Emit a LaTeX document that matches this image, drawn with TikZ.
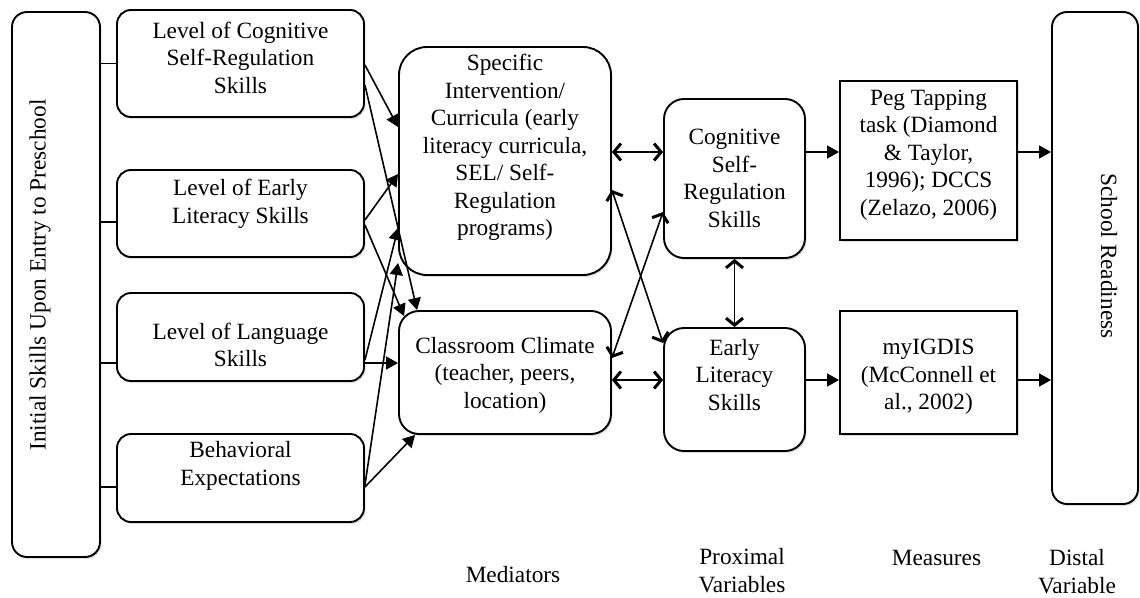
\documentclass[tikz,border=0pt]{standalone}
\usepackage{fontspec}
\setmainfont{Liberation Serif}
\usetikzlibrary{arrows.meta,calc,shadows}
\begin{document}
\begin{tikzpicture}[x=1pt,y=-1pt,
  box/.style={draw, line width=1.9pt, rounded corners=14pt, fill=white, inner sep=0pt,
    drop shadow={shadow xshift=1.5pt, shadow yshift=-2pt, opacity=0.22, fill=black!60}},
  sqbox/.style={box, sharp corners},
  txt/.style={align=center, inner sep=0pt, font=\fontsize{23.3}{27.5}\selectfont},
  conn/.style={line width=1.6pt},
  tri/.style={conn, -{Triangle[length=12pt,width=13pt]}},
  barb/.style={conn, {Straight Barb[length=7pt,width=17pt,line width=3pt]}-{Straight Barb[length=7pt,width=17pt,line width=3pt]}}
]
\useasboundingbox (0,0) rectangle (1140,597);

% boxes
\node[box, minimum width=88pt, minimum height=545pt, rounded corners=15pt] (L) at (56,284.5) {};
\node[box, minimum width=247pt, minimum height=107pt] (c1) at (240.5,63.5) {};
\node[box, minimum width=247pt, minimum height=87pt] (c2) at (240.5,213.5) {};
\node[box, minimum width=247pt, minimum height=88pt] (c3) at (240.5,337) {};
\node[box, minimum width=247pt, minimum height=88pt] (c4) at (240.5,478) {};
\node[box, minimum width=212pt, minimum height=228pt, rounded corners=28pt] (m1) at (505,161) {};
\node[box, minimum width=212pt, minimum height=123pt, rounded corners=20pt] (m2) at (505,372.5) {};
\node[box, minimum width=141pt, minimum height=159pt, rounded corners=20pt] (p1) at (734.5,178.5) {};
\node[box, minimum width=141pt, minimum height=123pt, rounded corners=20pt] (p2) at (734.5,389.5) {};
\node[sqbox, minimum width=177pt, minimum height=159pt] (r1) at (928.5,160.5) {};
\node[sqbox, minimum width=177pt, minimum height=123pt] (r2) at (928.5,372.5) {};
\node[box, minimum width=86pt, minimum height=492pt, rounded corners=15pt] (sr) at (1095,258) {};

% texts
\node[txt, rotate=90] (Lt) at (40,275) {Initial Skills Upon Entry to Preschool};
\node[txt] (c1t) at (240.5,57.5) {Level of Cognitive\\Self-Regulation\\Skills};
\node[txt] (c2t) at (240.5,204) {Level of Early\\Literacy Skills};
\node[txt] (c3t) at (240.5,345) {Level of Language\\Skills};
\node[txt] (c4t) at (240.5,466) {Behavioral\\Expectations};
\node[txt] (m1t) at (505,147.5) {Specific\\Intervention/\\Curricula (early\\literacy curricula,\\SEL/ Self-\\Regulation\\programs)};
\node[txt] (m2t) at (505,375) {Classroom Climate\\(teacher, peers,\\location)};
\node[txt] (p1t) at (734.5,178.5) {Cognitive\\Self-\\Regulation\\Skills};
\node[txt] (p2t) at (734.5,375) {Early\\Literacy\\Skills};
\node[txt] (r1t) at (928.5,155) {Peg Tapping\\task (Diamond\\\& Taylor,\\1996); DCCS\\(Zelazo, 2006)};
\node[txt] (r2t) at (928.5,377) {myIGDIS\\(McConnell et\\al., 2002)};
\node[txt, rotate=-90] (srt) at (1109,256) {School Readiness};

% column labels
\node[txt] (lab1) at (513,575) {Mediators};
\node[txt] (lab2) at (742,570.5) {Proximal\\Variables};
\node[txt] (lab3) at (936.5,558) {Measures};
\node[txt] (lab4) at (1077,571.5) {Distal\\Variable};

% coordinates on node edges
\coordinate (c1a) at ($(c1.east)+(0,1.5)$);
\coordinate (c1b) at ($(c1.east)+(0,21.5)$);
\coordinate (c2a) at ($(c2.east)+(0,6.5)$);
\coordinate (c2b) at ($(c2.east)+(0,11.5)$);
\coordinate (c3a) at ($(c3.east)+(0,23)$);
\coordinate (c3b) at ($(c3.east)+(0,26)$);
\coordinate (c4a) at ($(c4.east)+(0,7)$);
\coordinate (c4b) at ($(c4.east)+(0,9)$);

\coordinate (c1w) at (c1.west);
\coordinate (c2w) at ($(c2.west)+(0,8.5)$);
\coordinate (c3w) at ($(c3.west)+(0,26)$);
\coordinate (c4w) at ($(c4.west)+(0,9)$);

% initial box to skill boxes
\draw[conn] (c1w -| L.east) -- (c1w);
\draw[conn] (c2w -| L.east) -- (c2w);
\draw[conn] (c3w -| L.east) -- (c3w);
\draw[conn] (c4w -| L.east) -- (c4w);

% skills to mediators
\draw[tri] (c1a) -- ($(m1.west)+(0,-34)$);
\draw[tri] (c1b) -- ($(m2.north west)+(19,0)$);
\draw[tri] (c2a) -- ($(m1.west)+(0,13)$);
\draw[tri] (c2b) -- ($(m2.north west)+(6,6)$);
\draw[tri] (c3a) -- ($(m1.west)+(0,67)$);
\draw[tri] (c3b) -- ($(m2.west)+(0,-9.5)$);
\draw[tri] (c4a) -- ($(m1.west)+(0,102)$);
\draw[tri] (c4b) -- ($(m2.south west)+(17,0)$);

% mediators <-> proximal
\draw[barb] ($(m1.east)+(0,-9)$) -- ($(p1.west)+(0,-26.5)$);
\draw[barb] ($(m2.east)+(0,7.5)$) -- ($(p2.west)+(0,-9.5)$);
\draw[barb] ($(m1.east)+(0,29)$) -- ($(p2.west)+(0,-46.5)$);
\draw[barb] ($(m2.east)+(0,-14.5)$) -- ($(p1.west)+(0,33.5)$);
\draw[barb] (p1.south) -- (p2.north);

% proximal to measures to distal
\draw[tri] ($(p1.east)+(0,-26.5)$) -- ($(r1.west)+(0,-8.5)$);
\draw[tri] ($(p2.east)+(0,-9.5)$) -- ($(r2.west)+(0,7.5)$);
\draw[tri] ($(r1.east)+(0,-8.5)$) -- ($(sr.west)+(0,-106)$);
\draw[tri] ($(r2.east)+(0,7.5)$) -- ($(sr.west)+(0,122)$);
\end{tikzpicture}
\end{document}
